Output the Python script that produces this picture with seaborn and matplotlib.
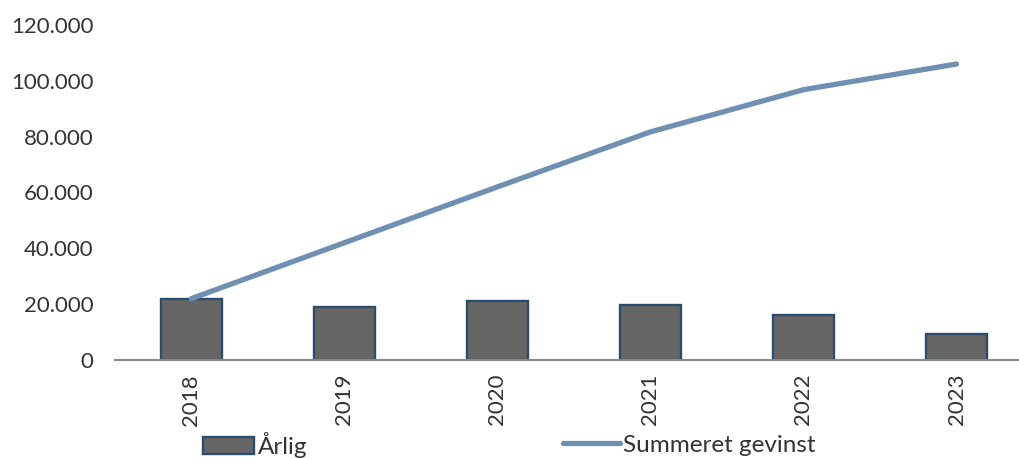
import numpy as np
import pandas as pd
import matplotlib
matplotlib.use('Agg')
import matplotlib.pyplot as plt
import seaborn as sns
from matplotlib.patches import Patch
from matplotlib.lines import Line2D

# data
years = ['2018', '2019', '2020', '2021', '2022', '2023']
aarlig = [22000, 19000, 21100, 19800, 16000, 9300]
summeret = [22000, 42000, 62000, 81700, 96800, 106000]

sns.set_theme(style='white')
plt.rcParams['font.family'] = ['Lato', 'DejaVu Sans']

df = pd.DataFrame({'aar': years, 'aarlig': aarlig, 'summeret': summeret})

fig = plt.figure(figsize=(10.2, 4.59), dpi=100)
ax = fig.add_axes([0.1127, 0.2157, 0.8873, 0.730])

bar_col = '#666666'
edge_col = '#2b4c6b'
line_col = '#6f8fb3'
txt_col = '#333333'

sns.barplot(data=df, x='aar', y='aarlig', color=bar_col, width=0.4,
            edgecolor=edge_col, linewidth=1.7, saturation=1, ax=ax)
sns.lineplot(data=df, x='aar', y='summeret', color=line_col, linewidth=3.8,
             sort=False, ax=ax)

ax.set_xlim(-0.5, 5.415)
ax.set_ylim(0, 120000)
ax.set_yticks(np.arange(0, 120001, 20000))
ax.set_yticklabels(['0' if v == 0 else f'{v // 1000}.000' for v in range(0, 120001, 20000)])
ax.set_xlabel('')
ax.set_ylabel('')
ax.tick_params(axis='x', labelrotation=90, labelsize=16, colors=txt_col, length=0, pad=10)
ax.tick_params(axis='y', labelsize=16, colors=txt_col, length=0, pad=15.5)

for s in ['top', 'right', 'left']:
    ax.spines[s].set_visible(False)
ax.spines['bottom'].set_color('#888888')
ax.spines['bottom'].set_linewidth(1.5)

# legend (two entries at the bottom edge, like the original)
leg1 = fig.legend([Patch(facecolor=bar_col, edgecolor=edge_col, linewidth=1.7)], ['Årlig'],
                  loc='center left', bbox_to_anchor=(203 / 1020, 0.03), frameon=False,
                  fontsize=17.5, handlelength=2.1, handletextpad=0.15, borderaxespad=0,
                  borderpad=0, labelcolor=txt_col)
leg2 = fig.legend([Line2D([0], [0], color=line_col, linewidth=3.8)], ['Summeret gevinst'],
                  loc='center left', bbox_to_anchor=(563 / 1020, 0.03), frameon=False,
                  fontsize=17.5, handlelength=2.35, handletextpad=0.1, borderaxespad=0,
                  borderpad=0, labelcolor=txt_col)

fig.savefig('out.png', dpi=100)
